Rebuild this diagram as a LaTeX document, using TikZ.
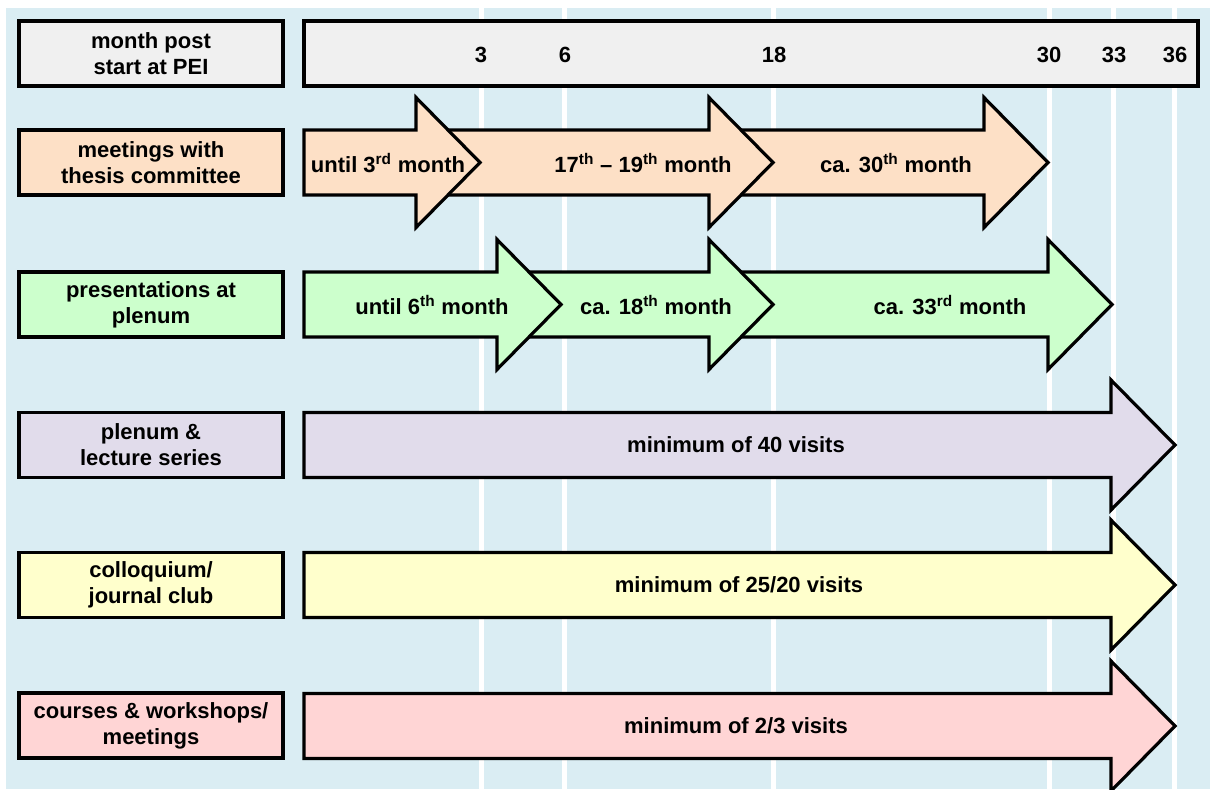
\documentclass[tikz,border=0pt]{standalone}
\usepackage{fontspec}
\setmainfont{Liberation Sans}
\usepackage{tikz}
\definecolor{bgblue}{RGB}{218,237,243}
\definecolor{hdrgrey}{RGB}{240,240,240}
\definecolor{peach}{RGB}{253,224,198}
\definecolor{mint}{RGB}{204,255,204}
\definecolor{lavender}{RGB}{225,220,235}
\definecolor{paleyellow}{RGB}{255,255,204}
\definecolor{rose}{RGB}{255,213,213}
\tikzstyle{rowlabel} = [draw, line width=2.4pt, minimum width=198pt,
    minimum height=48.75pt, inner sep=0pt, align=center,
    font=\fontsize{16.5}{19.5}\selectfont\bfseries]
\tikzstyle{armtext} = [inner sep=0pt, font=\fontsize{16.5}{19.5}\selectfont\bfseries]
\tikzset{bar/.style={draw, line width=2.4pt, line join=miter, miter limit=10}}
% arrow: fill, x start, x head, y centre
\newcommand{\timearrow}[4]{%
  \filldraw[bar, fill=#1] (#2,#4-32.5) -- (#3,#4-32.5) -- (#3,#4-65)
    -- (#3+64,#4) -- (#3,#4+65) -- (#3,#4+32.5) -- (#2,#4+32.5) -- cycle;}

\begin{document}
\begin{tikzpicture}
\begin{scope}[x=0.75pt, y=-0.75pt]
    \useasboundingbox (0,0) rectangle (1210,789);
    \clip (0,0) rectangle (1210,789);
    %background
    \fill[bgblue] (6,8) rectangle (1210,789);
    \foreach \x in {481.5,564.5,773.5,1049.5,1113.5,1174.5}
        \fill[white] (\x-2.5,8) rectangle (\x+2.5,789);
    %header
    \node[rowlabel, fill=hdrgrey] (lhead) at (151,53.5) {month post\\start at PEI};
    \node[rowlabel, fill=hdrgrey, minimum width=670.5pt] (tline) at (751,53.5) {};
    \foreach \m/\x in {3/481,6/565,18/774,30/1049,33/1114,36/1175}
        \node[armtext] (n\m) at (\x,55) {\m};
    %row labels
    \node[rowlabel, fill=peach] (lmeet) at (151,162.5) {meetings with\\thesis committee};
    \node[rowlabel, fill=mint] (lpres) at (151,304.5) {presentations at\\plenum};
    \node[rowlabel, fill=lavender] (lplen) at (151,445) {plenum \&\\lecture series};
    \node[rowlabel, fill=paleyellow] (lcoll) at (151,585) {colloquium/\\journal club};
    \node[rowlabel, fill=rose] (lcour) at (151,725.5) {courses \& workshops/\\meetings};
    %thesis committee
    \timearrow{peach}{709}{984}{162.5}
    \timearrow{peach}{416}{709}{162.5}
    \timearrow{peach}{304}{416}{162.5}
    \node[armtext] (m1) at (388,163) {until 3\textsuperscript{rd} month};
    \node[armtext] (m2) at (643,163) {17\textsuperscript{th} -- 19\textsuperscript{th} month};
    \node[armtext] (m3) at (896,163) {ca. 30\textsuperscript{th} month};
    %plenum presentations
    \timearrow{mint}{709}{1048}{304.5}
    \timearrow{mint}{497}{709}{304.5}
    \timearrow{mint}{304}{497}{304.5}
    \node[armtext] (p1) at (432,305) {until 6\textsuperscript{th} month};
    \node[armtext] (p2) at (656,305) {ca. 18\textsuperscript{th} month};
    \node[armtext] (p3) at (950,305) {ca. 33\textsuperscript{rd} month};
    %visits
    \timearrow{lavender}{304}{1111}{445}
    \timearrow{paleyellow}{304}{1111}{585}
    \timearrow{rose}{304}{1111}{726}
    \node[armtext] (v1) at (736,445) {minimum of 40 visits};
    \node[armtext] (v2) at (739,585) {minimum of 25/20 visits};
    \node[armtext] (v3) at (736,726) {minimum of 2/3 visits};
\end{scope}
\end{tikzpicture}
\end{document}
